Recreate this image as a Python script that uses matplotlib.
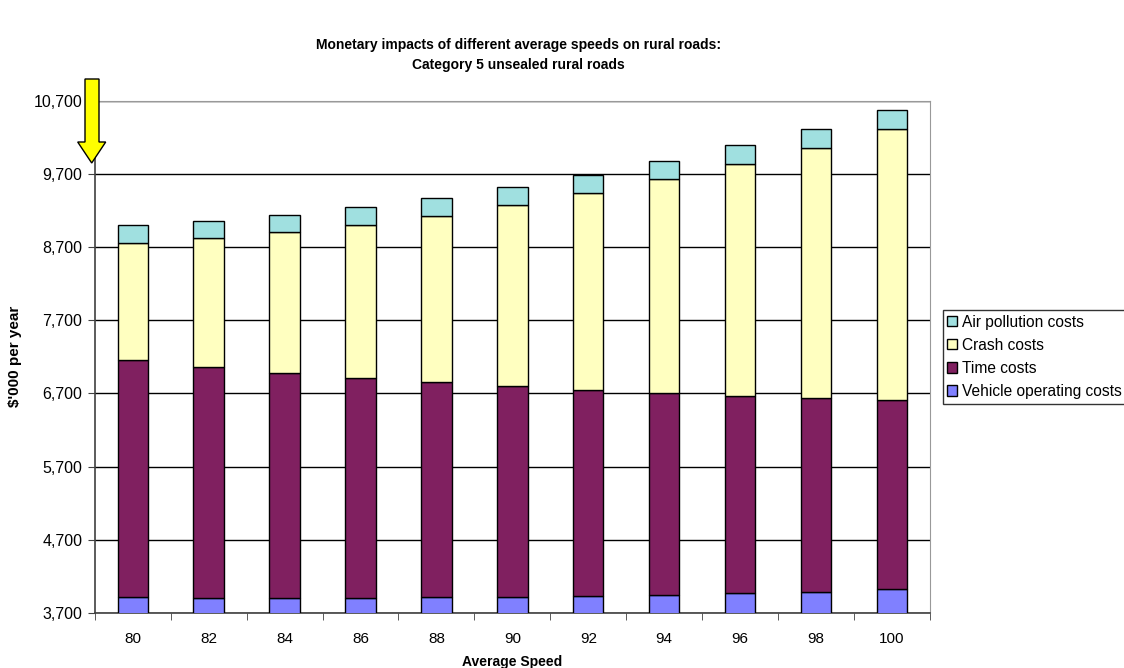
import numpy as np
import matplotlib
matplotlib.use("Agg")
import matplotlib.pyplot as plt
from matplotlib.patches import Polygon
from matplotlib.ticker import FuncFormatter

plt.rcParams["font.family"] = ["Liberation Sans", "DejaVu Sans"]

speeds = ["80", "82", "84", "86", "88", "90", "92", "94", "96", "98", "100"]
# cumulative tops ($'000 per year)
voc_top = [3913, 3905, 3900, 3900, 3910, 3923, 3935, 3946, 3969, 3991, 4019]
time_top = [7154, 7067, 6985, 6916, 6853, 6799, 6748, 6711, 6670, 6643, 6615]
crash_top = [8759, 8823, 8909, 9009, 9132, 9279, 9443, 9630, 9839, 10058, 10314]
air_top = [8996, 9060, 9146, 9247, 9374, 9521, 9693, 9881, 10090, 10318, 10574]

voc = np.array(voc_top)
time_c = np.array(time_top) - voc
crash = np.array(crash_top) - np.array(time_top)
air = np.array(air_top) - np.array(crash_top)

fig = plt.figure(figsize=(11.24, 6.68), dpi=100)
ax = fig.add_axes([0.0843, 0.0826, 0.7431, 0.7664])

x = np.arange(len(speeds))
w = 0.4
kw = dict(width=w, edgecolor="black", linewidth=1.0, zorder=3)
b1 = ax.bar(x, voc, color="#8080FF", label="Vehicle operating costs", **kw)
b2 = ax.bar(x, time_c, bottom=voc, color="#802060", label="Time costs", **kw)
b3 = ax.bar(x, crash, bottom=np.array(time_top), color="#FFFFC0", label="Crash costs", **kw)
b4 = ax.bar(x, air, bottom=np.array(crash_top), color="#A0E0E0", label="Air pollution costs", **kw)

ax.set_ylim(3700, 10700)
ax.set_xlim(-0.5, len(speeds) - 0.5)
ax.set_yticks(np.arange(3700, 10701, 1000))
ax.yaxis.set_major_formatter(FuncFormatter(lambda v, p: f"{int(v):,}"))
ax.set_xticks(x)
ax.set_xticklabels(speeds)
ax.set_xticks(np.arange(-0.5, len(speeds)), minor=True)
ax.tick_params(axis="x", which="major", length=0, pad=14, labelsize=11)
ax.tick_params(axis="x", which="minor", length=5, direction="out", color="#404040")
ax.tick_params(axis="y", length=5, direction="out", labelsize=11.5, color="#404040", pad=4)
ax.grid(axis="y", color="black", linewidth=1.0, zorder=0)

for s in ["top", "right"]:
    ax.spines[s].set_color("#999999")
for s in ["left", "bottom"]:
    ax.spines[s].set_color("#404040")
    ax.spines[s].set_linewidth(1.2)

ax.set_ylabel("$'000 per year", fontsize=11, fontweight="bold", labelpad=8)
ax.set_xlabel("Average Speed", fontsize=10, fontweight="bold", labelpad=6)

fig.text(0.461, 0.918, "Monetary impacts of different average speeds on rural roads:\nCategory 5 unsealed rural roads",
         ha="center", va="center", fontsize=10, fontweight="bold", linespacing=1.5)

leg = ax.legend(handles=[b4, b3, b2, b1], loc="upper left", bbox_to_anchor=(942.5 / 1124, 1 - 310 / 668),
                bbox_transform=fig.transFigure, frameon=True, fancybox=False, fontsize=11.2,
                handlelength=0.65, handleheight=0.65, handletextpad=0.3, labelspacing=0.52,
                borderpad=0.3, borderaxespad=0)
leg.get_frame().set_edgecolor("black")
leg.get_frame().set_linewidth(1.0)

# yellow arrow pointing at the axis origin
H = 668.0
W = 1124.0
pts = [(85, 79), (99, 79), (99, 142), (105.7, 142), (91.7, 163), (77.7, 142), (85, 142)]
arrow = Polygon([(px / W, 1 - py / H) for px, py in pts], closed=True,
                transform=fig.transFigure, facecolor="#FFFF00", edgecolor="black",
                linewidth=1.0, zorder=10)
fig.patches.append(arrow)

fig.savefig("out.png", dpi=100)
